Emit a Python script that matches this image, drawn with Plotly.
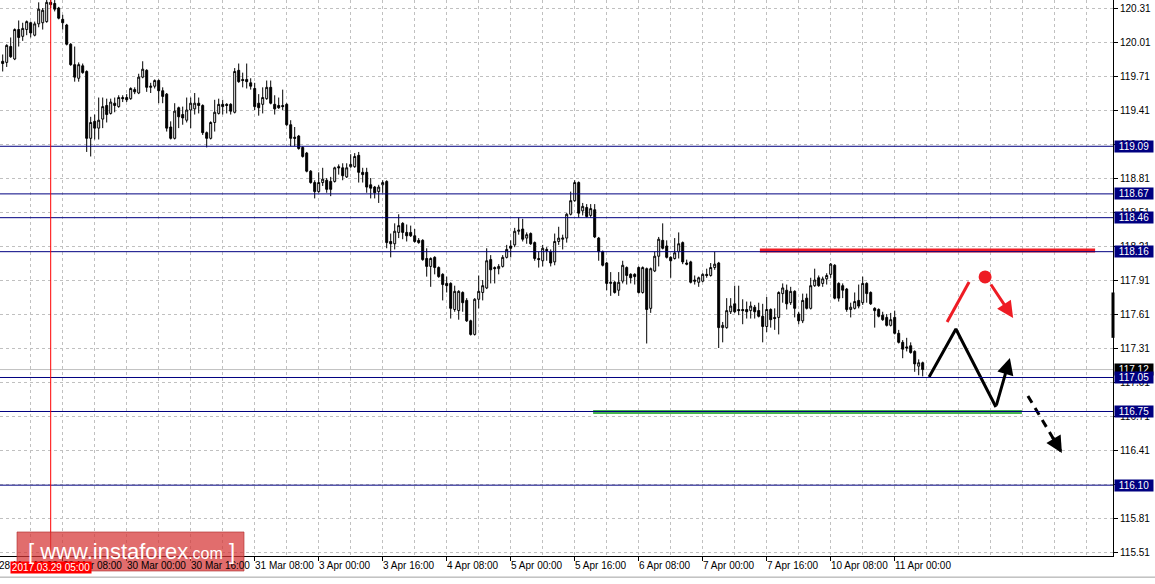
import plotly.graph_objects as go

# ---- H1 candles, bar index 0 = 28 Mar 17:00 (weekend bars skipped) ----
open_ = [119.84,119.83,119.97,119.86,120.12,120.06,120.12,120.18,120.07,120.17,
         120.18,120.19,120.36,120.35,120.31,120.21,120.16,119.99,119.81,119.69,
         119.80,119.75,119.16,119.31,119.25,119.33,119.45,119.38,119.47,119.44,
         119.52,119.52,119.51,119.59,119.56,119.70,119.76,119.61,119.62,119.67,
         119.58,119.55,119.26,119.16,119.43,119.37,119.32,119.41,119.42,119.47,
         119.45,119.21,119.16,119.30,119.38,119.46,119.46,119.46,119.39,119.76,
         119.68,119.68,119.65,119.60,119.47,119.46,119.51,119.61,119.46,119.45,
         119.45,119.46,119.28,119.17,119.18,119.08,119.03,118.87,118.77,118.69,
         118.77,118.79,118.78,118.78,118.91,118.90,118.82,118.91,118.91,119.01,
         118.86,118.86,118.75,118.73,118.69,118.75,118.78,118.25,118.23,118.33,
         118.41,118.33,118.33,118.30,118.26,118.26,118.10,118.03,118.11,118.02,
         117.96,117.88,117.88,117.65,117.64,117.80,117.73,117.55,117.43,117.74,
         117.80,117.84,118.09,118.02,118.01,118.03,118.11,118.21,118.22,118.34,
         118.36,118.28,118.32,118.24,118.10,118.08,118.18,118.16,118.07,118.25,
         118.27,118.28,118.49,118.61,118.77,118.52,118.55,118.48,118.53,118.28,
         118.16,118.06,117.88,117.89,117.82,117.90,118.02,117.96,117.96,118.02,
         117.80,118.01,117.66,117.99,118.12,118.26,118.21,118.11,118.10,118.16,
         118.24,118.06,118.07,117.91,117.89,117.90,117.96,117.95,118.02,118.06,
         117.49,117.49,117.63,117.70,117.65,117.65,117.65,117.64,117.67,117.64,
         117.59,117.50,117.65,117.58,117.58,117.79,117.82,117.71,117.81,117.61,
         117.55,117.75,117.66,117.86,117.93,117.88,117.92,117.96,118.04,117.88,
         117.86,117.83,117.65,117.66,117.73,117.71,117.88,117.80,117.66,117.65,
         117.60,117.58,117.51,117.58,117.44,117.36,117.32,117.33,117.28,117.15,
         117.18]
high = [119.90,119.99,120.05,120.13,120.20,120.18,120.20,120.19,120.19,120.36,
        120.31,120.40,120.42,120.38,120.32,120.25,120.17,120.00,119.97,119.83,
        119.82,119.76,119.35,119.37,119.52,119.52,119.51,119.51,119.52,119.54,
        119.54,119.55,119.61,119.61,119.73,119.84,119.77,119.65,119.68,119.68,
        119.61,119.56,119.31,119.47,119.44,119.44,119.52,119.52,119.56,119.52,
        119.46,119.22,119.31,119.50,119.51,119.50,119.47,119.47,119.78,119.82,
        119.74,119.82,119.69,119.65,119.55,119.61,119.67,119.67,119.54,119.52,
        119.59,119.47,119.32,119.26,119.19,119.09,119.04,118.88,118.79,118.86,
        118.90,118.81,118.82,118.91,118.93,118.94,118.94,119.02,119.03,119.04,
        118.90,118.90,118.81,118.74,118.75,118.79,118.79,118.32,118.41,118.49,
        118.42,118.40,118.39,118.36,118.28,118.27,118.19,118.11,118.12,118.03,
        117.97,117.94,117.89,117.86,117.82,117.81,117.75,117.56,117.75,117.95,
        117.91,118.19,118.13,118.03,118.05,118.13,118.22,118.26,118.37,118.46,
        118.45,118.33,118.33,118.25,118.16,118.22,118.20,118.18,118.32,118.38,
        118.31,118.50,118.69,118.79,118.78,118.59,118.58,118.58,118.58,118.29,
        118.17,118.07,117.98,117.90,117.98,118.08,118.03,117.97,117.97,118.03,
        118.03,118.02,118.02,118.16,118.29,118.41,118.26,118.12,118.28,118.33,
        118.25,118.09,118.08,117.95,117.94,117.97,118.01,118.06,118.16,118.07,
        117.54,117.75,117.75,117.86,117.86,117.74,117.72,117.72,117.69,117.71,
        117.70,117.76,117.66,117.66,117.81,117.88,117.87,117.85,117.82,117.63,
        117.79,117.79,117.93,118.01,117.95,117.94,117.97,118.06,118.05,117.89,
        117.88,117.84,117.71,117.80,117.87,117.94,117.89,117.81,117.67,117.66,
        117.63,117.61,117.62,117.64,117.47,117.38,117.40,117.36,117.29,117.21,
        117.19]
low = [119.75,119.79,119.87,119.85,119.97,120.02,120.07,120.05,120.06,120.14,
       120.12,120.18,120.31,120.28,120.21,120.12,119.98,119.80,119.66,119.66,
       119.73,119.04,119.00,119.15,119.15,119.25,119.30,119.37,119.39,119.43,
       119.48,119.48,119.50,119.55,119.55,119.69,119.57,119.56,119.60,119.47,
       119.47,119.22,119.15,119.15,119.25,119.28,119.30,119.25,119.37,119.38,
       119.19,119.08,119.15,119.22,119.37,119.37,119.38,119.37,119.38,119.65,
       119.61,119.60,119.59,119.41,119.36,119.38,119.50,119.46,119.37,119.42,
       119.41,119.27,119.09,119.09,119.06,118.99,118.86,118.76,118.63,118.68,
       118.74,118.68,118.65,118.77,118.84,118.79,118.81,118.90,118.90,118.77,
       118.77,118.68,118.63,118.63,118.59,118.68,118.19,118.11,118.18,118.28,
       118.27,118.25,118.29,118.24,118.23,118.08,117.94,117.85,117.96,117.93,
       117.73,117.80,117.57,117.63,117.56,117.63,117.54,117.42,117.42,117.66,
       117.73,117.83,117.88,117.88,117.96,118.02,118.10,118.11,118.20,118.31,
       118.25,118.23,118.22,118.08,118.02,118.03,118.08,118.03,118.04,118.22,
       118.18,118.24,118.48,118.60,118.46,118.48,118.46,118.46,118.28,118.08,
       118.03,117.82,117.77,117.79,117.77,117.88,117.87,117.88,117.87,117.79,
       117.79,117.35,117.62,117.98,118.03,118.18,118.10,117.93,118.09,118.10,
       118.05,118.04,117.88,117.87,117.85,117.89,117.93,117.94,118.00,117.31,
       117.36,117.48,117.61,117.62,117.60,117.52,117.57,117.57,117.57,117.58,
       117.36,117.45,117.49,117.47,117.43,117.71,117.65,117.69,117.58,117.52,
       117.53,117.65,117.65,117.85,117.85,117.85,117.87,117.93,117.74,117.72,
       117.75,117.63,117.58,117.65,117.66,117.69,117.71,117.69,117.49,117.58,
       117.55,117.50,117.50,117.43,117.35,117.22,117.28,117.26,117.10,117.07,
       117.06]
close = [119.82,119.98,119.88,120.12,120.05,120.13,120.19,120.09,120.17,120.30,
         120.29,120.36,120.34,120.30,120.22,120.18,119.99,119.81,119.70,119.81,
         119.74,119.16,119.30,119.25,119.32,119.44,119.37,119.48,119.45,119.52,
         119.51,119.50,119.60,119.57,119.70,119.77,119.61,119.62,119.67,119.58,
         119.53,119.25,119.16,119.40,119.35,119.34,119.41,119.47,119.47,119.45,
         119.21,119.16,119.30,119.39,119.46,119.44,119.45,119.40,119.75,119.66,
         119.67,119.66,119.62,119.44,119.43,119.52,119.61,119.47,119.42,119.43,
         119.44,119.28,119.16,119.16,119.07,119.00,118.87,118.77,118.69,118.77,
         118.80,118.71,118.71,118.90,118.90,118.83,118.90,118.93,119.00,118.86,
         118.84,118.73,118.72,118.68,118.73,118.77,118.24,118.23,118.34,118.39,
         118.33,118.30,118.30,118.25,118.24,118.09,118.03,118.10,118.02,117.94,
         117.87,117.86,117.66,117.81,117.81,117.71,117.55,117.43,117.74,117.81,
         117.86,118.08,118.00,118.01,118.03,118.11,118.18,118.19,118.34,118.35,
         118.27,118.31,118.23,118.10,118.09,118.19,118.17,118.06,118.25,118.28,
         118.28,118.49,118.61,118.77,118.50,118.56,118.47,118.54,118.29,118.16,
         118.04,117.88,117.89,117.80,117.89,118.04,117.95,117.93,117.94,117.80,
         118.02,117.65,118.01,118.12,118.27,118.19,118.11,118.08,118.15,118.23,
         118.07,118.05,117.89,117.90,117.93,117.96,117.95,118.02,118.05,117.49,
         117.51,117.64,117.68,117.63,117.64,117.64,117.63,117.68,117.63,117.59,
         117.50,117.65,117.56,117.57,117.80,117.84,117.70,117.81,117.66,117.55,
         117.73,117.66,117.86,117.91,117.86,117.92,117.95,118.05,117.75,117.75,
         117.82,117.65,117.67,117.72,117.68,117.88,117.79,117.70,117.64,117.59,
         117.56,117.51,117.56,117.44,117.36,117.30,117.31,117.27,117.17,117.18,
         117.12]

bar_index = list(range(len(close)))

# time-axis labels (text and the bar index where each one starts)
time_labels = ["28 Mar 16:00", "29 Mar 08:00", "30 Mar 00:00", "30 Mar 16:00",
               "31 Mar 08:00", "3 Apr 00:00", "3 Apr 16:00", "4 Apr 08:00",
               "5 Apr 00:00", "5 Apr 16:00", "6 Apr 08:00", "7 Apr 00:00",
               "7 Apr 16:00", "10 Apr 08:00", "11 Apr 00:00"]
time_label_bar = [-1, 15, 31, 47, 63, 79, 95, 111, 127, 143, 159, 175, 191, 207, 223]

# horizontal levels
levels = [119.09, 118.67, 118.46, 118.16, 117.05, 116.75, 116.10]
bid_price = 117.12
vline_bar = 12
vline_label = "2017.03.29 05:00"

# drawn objects (bar index, price)
red_level = {"x": [189.3, 273.1], "y": [118.17, 118.17]}
green_level = {"x": [147.6, 254.8], "y": [116.745, 116.745]}
zigzag_x = [231.6, 238.3, 248.3, 251.8]
zigzag_y = [117.054, 117.478, 116.790, 117.222]
dash_x = [256.3, 264.8]
dash_y = [116.887, 116.384]
red_up_x = [236.1, 241.6]
red_up_y = [117.540, 117.893]
red_dot = (245.6, 117.937)
red_down_x = [246.8, 252.6]
red_down_y = [117.884, 117.575]

XMIN, XMAX = -0.675, 277.575
YMIN, YMAX = 115.475, 120.3806
RED = "#ee1c24"
NAVY = "#000080"
FONT = "Liberation Sans, Arial, sans-serif"

fig = go.Figure()
fig.add_trace(go.Candlestick(
    x=bar_index, open=open_, high=high, low=low, close=close,
    increasing=dict(line=dict(color="black", width=1), fillcolor="white"),
    decreasing=dict(line=dict(color="black", width=1), fillcolor="black"),
    whiskerwidth=0, hoverinfo="skip"))

# drawings
fig.add_trace(go.Scatter(x=red_level["x"], y=red_level["y"], mode="lines",
                         line=dict(color=RED, width=4), hoverinfo="skip"))
fig.add_trace(go.Scatter(x=green_level["x"], y=green_level["y"], mode="lines",
                         line=dict(color="#45b24f", width=4), hoverinfo="skip"))
fig.add_trace(go.Scatter(x=zigzag_x[:3], y=zigzag_y[:3], mode="lines",
                         line=dict(color="black", width=3), hoverinfo="skip"))
fig.add_trace(go.Scatter(x=dash_x, y=dash_y, mode="lines",
                         line=dict(color="black", width=3, dash="8px,6px"), hoverinfo="skip"))
fig.add_trace(go.Scatter(x=red_up_x, y=red_up_y, mode="lines",
                         line=dict(color=RED, width=3), hoverinfo="skip"))
fig.add_trace(go.Scatter(x=[red_dot[0]], y=[red_dot[1]], mode="markers",
                         marker=dict(color=RED, size=13), hoverinfo="skip"))

shapes = []
for lv in levels:
    shapes.append(dict(type="line", xref="paper", x0=0, x1=1, yref="y", y0=lv, y1=lv,
                       line=dict(color=NAVY, width=1), layer="above"))
shapes.append(dict(type="line", xref="paper", x0=0, x1=1, yref="y", y0=bid_price, y1=bid_price,
                   line=dict(color="#c0c0c0", width=1), layer="below"))
shapes.append(dict(type="line", xref="x", x0=vline_bar, x1=vline_bar, yref="paper", y0=0, y1=1,
                   line=dict(color="#ff0000", width=1), layer="above"))
# thick mark on the price scale
shapes.append(dict(type="line", xref="paper", x0=1, x1=1, yref="y", y0=117.40, y1=117.80,
                   line=dict(color="black", width=3)))
# bottom UI strip
shapes.append(dict(type="line", xref="paper", x0=0, x1=1.04, yref="paper", y0=-0.038, y1=-0.038,
                   line=dict(color="#a0a0a0", width=1)))

annotations = []
# arrow heads
annotations.append(dict(x=zigzag_x[3], y=zigzag_y[3], ax=zigzag_x[2], ay=zigzag_y[2],
                        xref="x", yref="y", axref="x", ayref="y", text="", showarrow=True,
                        arrowhead=2, arrowsize=1.1, arrowwidth=3, arrowcolor="black"))
annotations.append(dict(x=dash_x[1], y=dash_y[1], ax=-10, ay=-17,
                        xref="x", yref="y", text="", showarrow=True,
                        arrowhead=2, arrowsize=1.1, arrowwidth=3, arrowcolor="black"))
annotations.append(dict(x=red_down_x[1], y=red_down_y[1], ax=red_down_x[0], ay=red_down_y[0],
                        xref="x", yref="y", axref="x", ayref="y", text="", showarrow=True,
                        arrowhead=2, arrowsize=1.1, arrowwidth=3, arrowcolor=RED))

# time labels
for txt, b in zip(time_labels, time_label_bar):
    xv, xs = (b, -2) if b >= 0 else (0, -4 * (0 - b) - 2)
    annotations.append(dict(x=xv, xshift=xs, xref="x", y=0, yref="paper", yanchor="top",
                            xanchor="left", yshift=-2, text=txt, showarrow=False,
                            font=dict(family=FONT, size=10, color="black")))
annotations.append(dict(x=vline_bar, xref="x", y=0, yref="paper", yanchor="top", xanchor="center",
                        yshift=-5, text=vline_label, showarrow=False, bgcolor="#ff0000",
                        width=80, height=11, borderpad=0,
                        font=dict(family=FONT, size=10, color="white")))

# price boxes on the scale
annotations.append(dict(x=1, xref="paper", xanchor="left", xshift=1, y=bid_price, yref="y",
                        text=f"{bid_price:.2f}", showarrow=False, bgcolor="black",
                        width=38, height=11, borderpad=0,
                        font=dict(family=FONT, size=10, color="white")))
for lv in levels:
    annotations.append(dict(x=1, xref="paper", xanchor="left", xshift=1, y=lv, yref="y",
                            text=f"{lv:.2f}", showarrow=False, bgcolor=NAVY,
                            width=38, height=11, borderpad=0,
                            font=dict(family=FONT, size=10, color="white")))

# watermark
shapes.append(dict(type="rect", xref="paper", yref="paper", x0=17 / 1113, x1=244 / 1113,
                   y0=-0.027, y1=0.0432, fillcolor="rgba(214,52,52,0.72)",
                   line=dict(color="rgba(170,40,40,0.6)", width=1), layer="above"))
annotations.append(dict(x=131 / 1113, xref="paper", xanchor="center", y=0.008, yref="paper",
                        yanchor="middle", showarrow=False,
                        text="[ www.instaforex<span style='font-size:16px'>.com</span> ]",
                        font=dict(family=FONT, size=22, color="white")))

fig.update_layout(
    width=1155, height=584, margin=dict(l=0, r=42, t=0, b=28),
    paper_bgcolor="white", plot_bgcolor="white", showlegend=False,
    font=dict(family=FONT, size=10, color="black"),
    shapes=shapes, annotations=annotations, hovermode=False)
fig.update_xaxes(range=[XMIN, XMAX], rangeslider_visible=False, showgrid=False, zeroline=False,
                 showline=True, linecolor="black", linewidth=1,
                 tickmode="array", tickvals=[b for b in time_label_bar if b >= 0],
                 ticks="outside", ticklen=4, tickcolor="black", showticklabels=False,
                 minor=dict(tickmode="linear", tick0=7, dtick=8, showgrid=True,
                            gridcolor="#c0c0c0", griddash="3px,3px", gridwidth=1, ticks=""))
fig.update_yaxes(range=[YMIN, YMAX], side="right", tickmode="linear", tick0=115.51, dtick=0.3,
                 tickformat=".2f", showgrid=True, gridcolor="#c0c0c0", griddash="3px,3px",
                 zeroline=False, showline=True, linecolor="black", linewidth=1,
                 ticks="outside", ticklen=4, tickcolor="black",
                 tickfont=dict(family=FONT, size=10, color="black"))

fig.write_html("out.html", config={"displayModeBar": False},
               post_script=["document.body.style.margin='0px';document.body.style.overflow='hidden';"])
